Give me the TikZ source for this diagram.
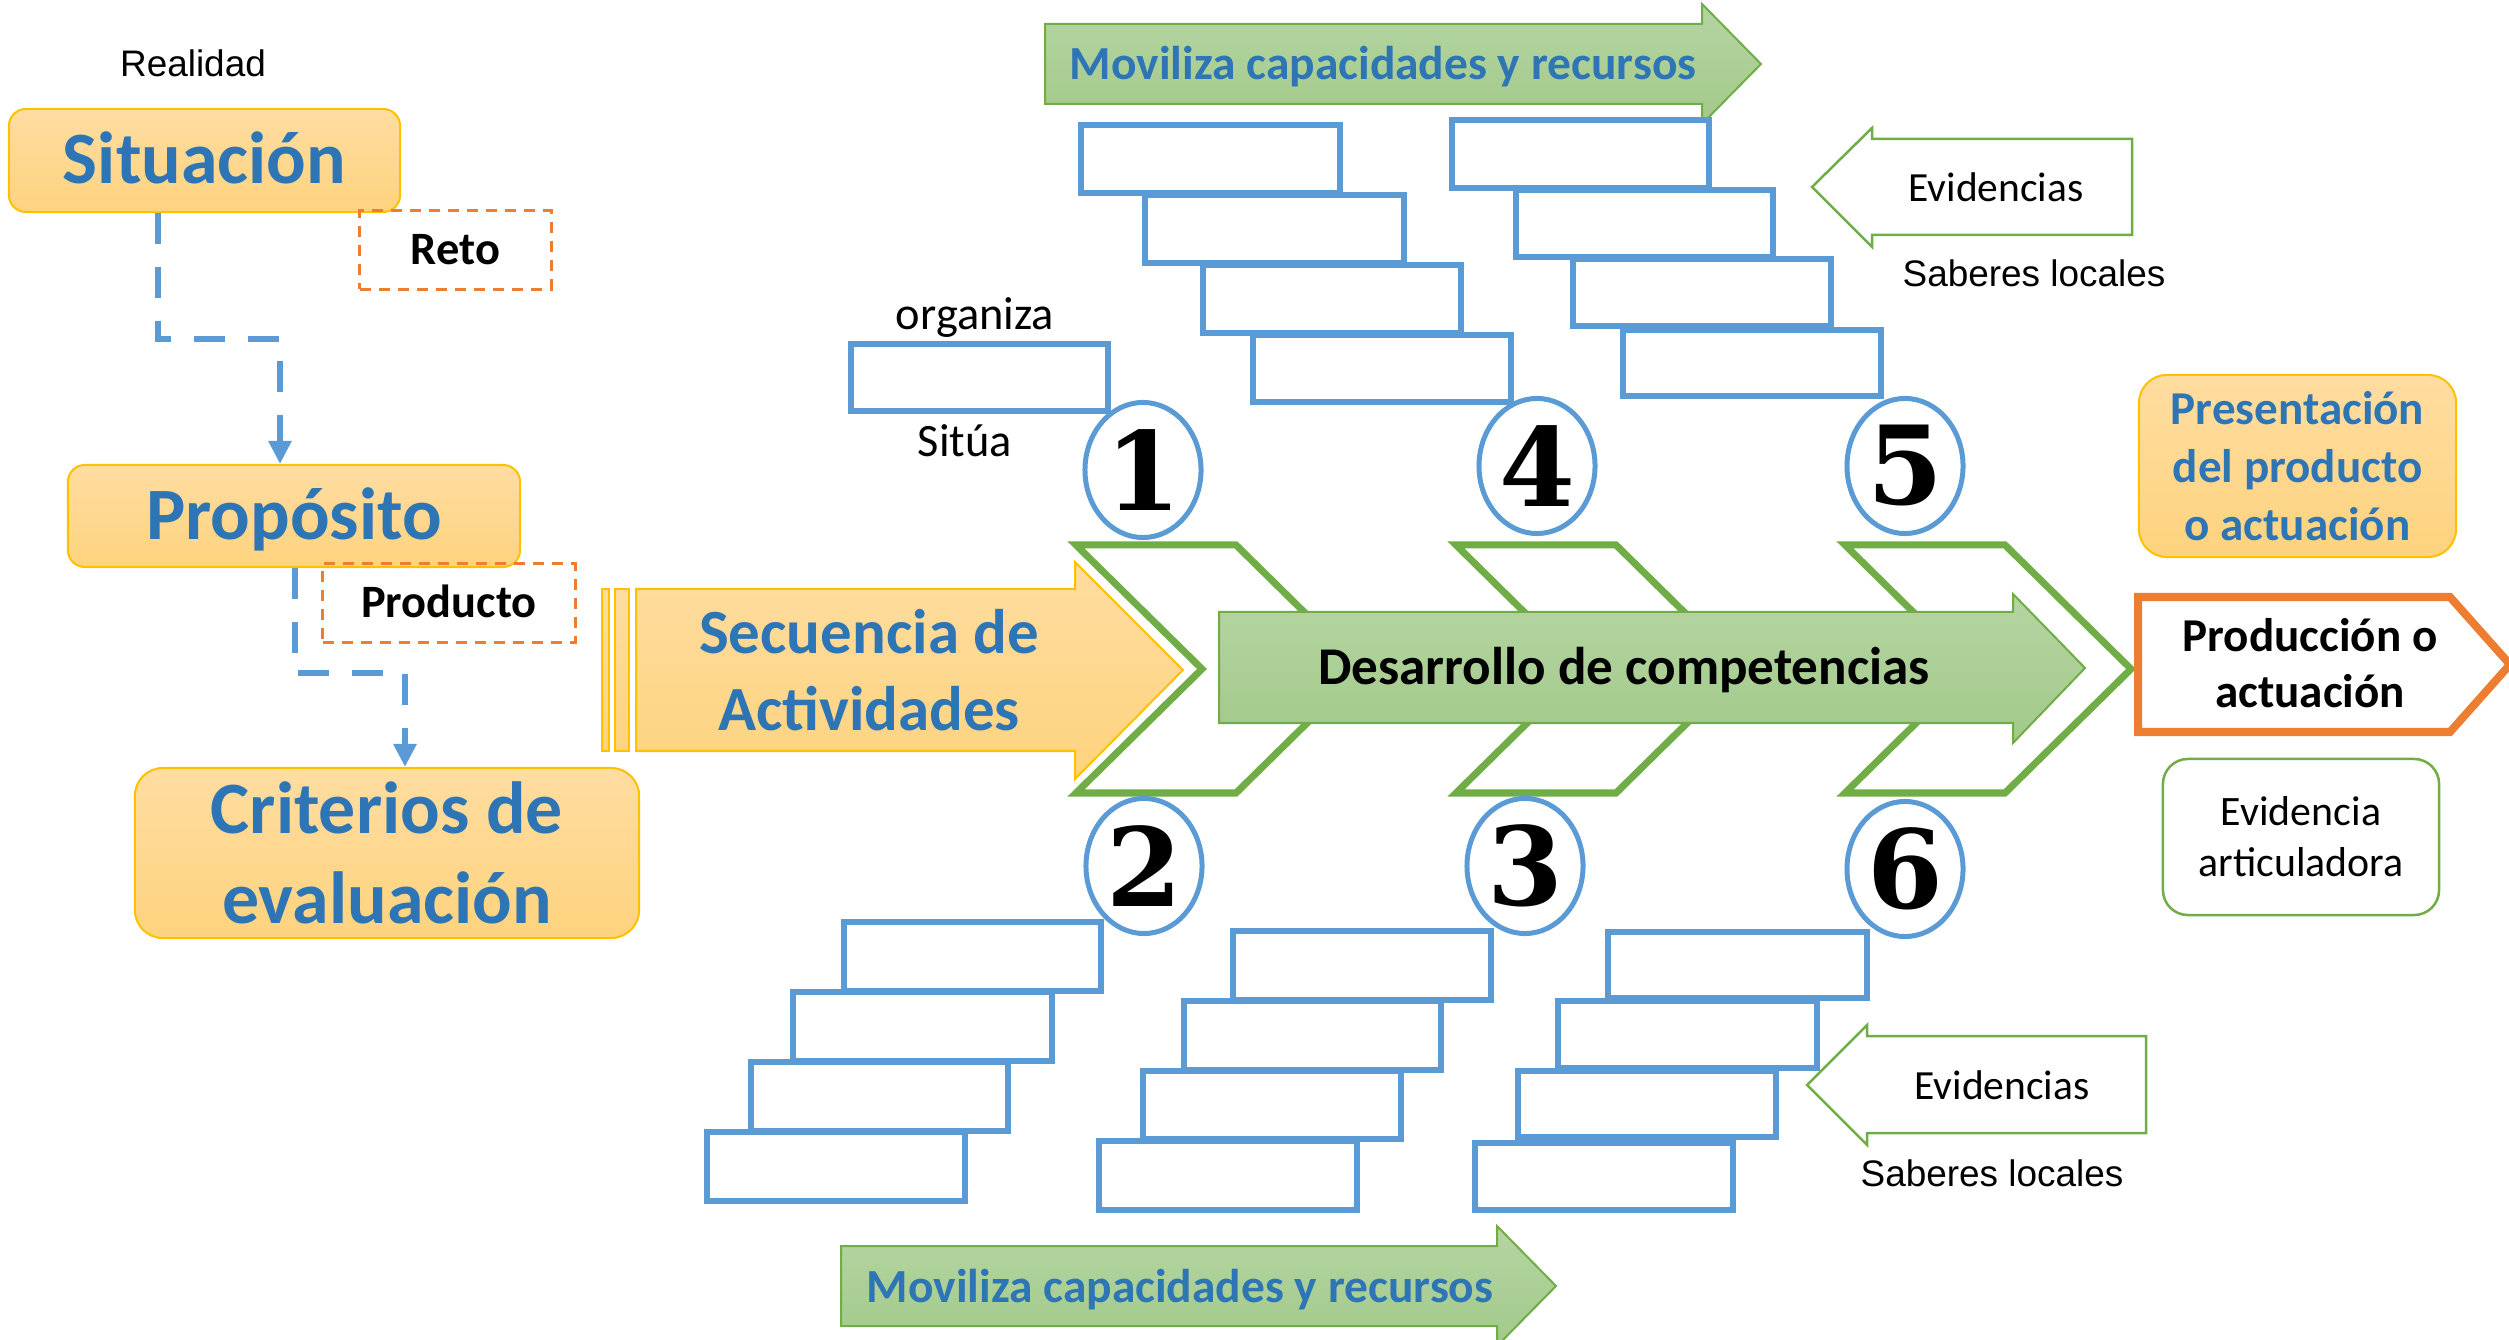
\documentclass[tikz,border=0pt]{standalone}
\usepackage{fontspec}
\newfontfamily\calfont{Carlito}
\newfontfamily\arialfont{Liberation Sans}
\newfontfamily\numfont{DejaVu Serif}
\usetikzlibrary{arrows.meta,shapes.geometric}
\definecolor{txtblue}{HTML}{2E75B6}
\definecolor{lineblue}{HTML}{5B9BD5}
\definecolor{goldline}{HTML}{FFC000}
\definecolor{orangeA}{HTML}{FFDDA1}
\definecolor{orangeB}{HTML}{FED37E}
\definecolor{greenA}{HTML}{B5D5A2}
\definecolor{greenB}{HTML}{A2C98A}
\definecolor{greenline}{HTML}{70AD47}
\definecolor{orangeline}{HTML}{ED7D31}
\begin{document}
\begin{tikzpicture}[x=0.01cm,y=-0.01cm,
  goldbox/.style={draw=goldline, line width=0.02cm, top color=orangeA, bottom color=orangeB, inner sep=0pt},
  greenfill/.style={draw=greenline, line width=0.02cm, top color=greenA, bottom color=greenB},
  bigtxt/.style={font=\calfont\bfseries\fontsize{21pt}{25.6pt}\selectfont, text=txtblue},
  dashbox/.style={draw=orangeline, line width=0.03cm, dash pattern=on 0.11cm off 0.08cm, inner sep=0pt},
  blacktxt/.style={font=\calfont\bfseries\fontsize{13.2pt}{16pt}\selectfont, text=black},
  conn/.style={draw=lineblue, line width=0.065cm, dash pattern=on 0.31cm off 0.23cm, -{Triangle[length=0.23cm,width=0.22cm]}},
  bluebox/.style={draw=lineblue, line width=0.06cm, fill=white},
  chev/.style={draw=greenline, line width=0.07cm, fill=white, line join=miter},
  numcirc/.style={ellipse, draw=lineblue, line width=0.05cm, fill=white, minimum width=1.16cm, minimum height=1.35cm, inner sep=0pt, font=\numfont\bfseries\fontsize{31pt}{31pt}\selectfont},
  movtxt/.style={font=\calfont\bfseries\fontsize{13.5pt}{16pt}\selectfont, text=txtblue},
  regtxt/.style={font=\calfont\fontsize{13.2pt}{16pt}\selectfont},
  evtxt/.style={font=\calfont\fontsize{11.8pt}{14.5pt}\selectfont},
  ariatxt/.style={font=\arialfont\fontsize{10.5pt}{12.6pt}\selectfont},
  evarrow/.style={draw=greenline, line width=0.025cm, fill=white}
]
\useasboundingbox (0,0) rectangle (2509,1340);
\clip (0,0) rectangle (2509,1340);

% ---------- left column ----------
\node[anchor=base, ariatxt] (real) at (193,77) {Realidad};
\node[goldbox, rounded corners=0.17cm, minimum width=3.91cm, minimum height=1.03cm, bigtxt, text height=13.3pt, text depth=0pt] (sit) at (204.5,160.5) {Situación};
\node[goldbox, rounded corners=0.17cm, minimum width=4.52cm, minimum height=1.02cm, bigtxt, text height=13.3pt, text depth=0pt] (prop) at (294,516) {Propósito};
\node[goldbox, rounded corners=0.28cm, minimum width=5.04cm, minimum height=1.70cm, bigtxt, align=center] (crit) at (387,853) {Criterios de\\evaluación};
\node[dashbox, minimum width=1.91cm, minimum height=0.78cm, blacktxt, text height=8.4pt, text depth=0pt] (reto) at (455.5,250) {Reto};
\node[dashbox, minimum width=2.52cm, minimum height=0.78cm, blacktxt, text height=8.4pt, text depth=0pt] (producto) at (449,603) {Producto};

\coordinate (k1) at (158,339);
\coordinate (k2) at (280,339);
\draw[conn] (sit.south -| k1) -- (k1) -- (k2) -- (prop.north -| k2);
\coordinate (k3) at (295,673);
\coordinate (k4) at (405,673);
\draw[conn] (prop.south -| k3) -- (k3) -- (k4) -- (crit.north -| k4);

% ---------- chevrons ----------
\foreach \cx in {1076,1456,1845}{
  \draw[chev] (\cx,545) -- ++(160,0) -- ++(126,124) -- ++(-126,124) -- ++(-160,0) -- ++(126,-124) -- cycle;
}

% ---------- Secuencia de actividades ----------
\draw[goldbox] (602,589) rectangle (609,751);
\draw[goldbox] (615,589) rectangle (629,751);
\draw[goldbox] (636,589) -- (1075,589) -- (1075,562) -- (1183,670) -- (1075,779) -- (1075,751) -- (636,751) -- cycle;
\node[font=\calfont\bfseries\fontsize{17.9pt}{21.9pt}\selectfont, text=txtblue, align=center] (sec) at (869,670) {Secuencia de\\Actividades};

% ---------- Desarrollo ----------
\draw[greenfill] (1219,612) -- (2013,612) -- (2013,594) -- (2085,668) -- (2013,743) -- (2013,723) -- (1219,723) -- cycle;
\node[anchor=base, font=\calfont\bfseries\fontsize{15.1pt}{18pt}\selectfont] (des) at (1624,685) {Desarrollo de competencias};

% ---------- Moviliza arrows ----------
\draw[greenfill] (1045,24) -- (1702,24) -- (1702,4) -- (1761,64) -- (1702,124) -- (1702,104) -- (1045,104) -- cycle;
\node[anchor=base, movtxt] (movtop) at (1383,80) {Moviliza capacidades y recursos};
\draw[greenfill] (841,1246) -- (1497,1246) -- (1497,1226) -- (1556,1286) -- (1497,1346) -- (1497,1326) -- (841,1326) -- cycle;
\node[anchor=base, movtxt] (movbot) at (1180,1302) {Moviliza capacidades y recursos};

% ---------- blue boxes ----------
\draw[bluebox] (851,344) rectangle (1108,411);
\node[anchor=base, regtxt] (organiza) at (975,330) {organiza};
\node[anchor=base, regtxt] (situa) at (965,457) {Sitúa};

\draw[bluebox] (1081,125) rectangle (1340,193);
\draw[bluebox] (1145,195) rectangle (1404,263);
\draw[bluebox] (1203,265) rectangle (1461,333);
\draw[bluebox] (1253,335) rectangle (1511,402);

\draw[bluebox] (1452,120) rectangle (1709,188);
\draw[bluebox] (1516,190) rectangle (1773,257);
\draw[bluebox] (1573,259) rectangle (1831,326);
\draw[bluebox] (1623,330) rectangle (1881,396);

\draw[bluebox] (844,922) rectangle (1101,991);
\draw[bluebox] (793,992) rectangle (1052,1061);
\draw[bluebox] (751,1062) rectangle (1008,1131);
\draw[bluebox] (707,1132) rectangle (965,1201);

\draw[bluebox] (1233,931) rectangle (1491,1000);
\draw[bluebox] (1184,1001) rectangle (1441,1070);
\draw[bluebox] (1143,1071) rectangle (1401,1139);
\draw[bluebox] (1099,1141) rectangle (1357,1210);

\draw[bluebox] (1608,932) rectangle (1867,998);
\draw[bluebox] (1558,1001) rectangle (1817,1068);
\draw[bluebox] (1518,1071) rectangle (1776,1137);
\draw[bluebox] (1475,1143) rectangle (1733,1210);

% ---------- numbered ellipses ----------
\node[numcirc] (n1) at (1143,470) {1};
\node[numcirc] (n4) at (1537,466) {4};
\node[numcirc] (n5) at (1905,466) {5};
\node[numcirc] (n2) at (1144,866) {2};
\node[numcirc] (n3) at (1525,866) {3};
\node[numcirc] (n6) at (1905,869) {6};

% ---------- Evidencias ----------
\draw[evarrow] (1812,187) -- (1872,128) -- (1872,139) -- (2132,139) -- (2132,235) -- (1872,235) -- (1872,247) -- cycle;
\node[anchor=base, evtxt] (evtop) at (1996,202) {Evidencias};
\node[anchor=base, ariatxt] (sabtop) at (2034,287) {Saberes locales};
\draw[evarrow] (1807,1085) -- (1867,1025) -- (1867,1036) -- (2146,1036) -- (2146,1133) -- (1867,1133) -- (1867,1145) -- cycle;
\node[anchor=base, evtxt] (evbot) at (2002,1099) {Evidencias};
\node[anchor=base, ariatxt] (sabbot) at (1992,1186) {Saberes locales};

% ---------- right column ----------
\node[goldbox, rounded corners=0.28cm, minimum width=3.17cm, minimum height=1.82cm, font=\calfont\bfseries\fontsize{13.4pt}{16.5pt}\selectfont, text=txtblue, align=center] (pres) at (2297.5,466) {Presentación\\del producto\\o actuación};
\draw[draw=orangeline, line width=0.08cm, fill=white, line join=miter] (2138,597) -- (2450,597) -- (2510,664.5) -- (2450,732) -- (2138,732) -- cycle;
\node[align=center, font=\calfont\bfseries\fontsize{13.4pt}{16pt}\selectfont] (prodt) at (2310,663) {Producción o\\actuación};
\node[draw=greenline, line width=0.025cm, rounded corners=0.25cm, minimum width=2.76cm, minimum height=1.56cm, inner sep=0pt, align=center, font=\calfont\fontsize{11.9pt}{14.5pt}\selectfont] (evart) at (2301,837) {Evidencia\\articuladora};
\end{tikzpicture}
\end{document}
